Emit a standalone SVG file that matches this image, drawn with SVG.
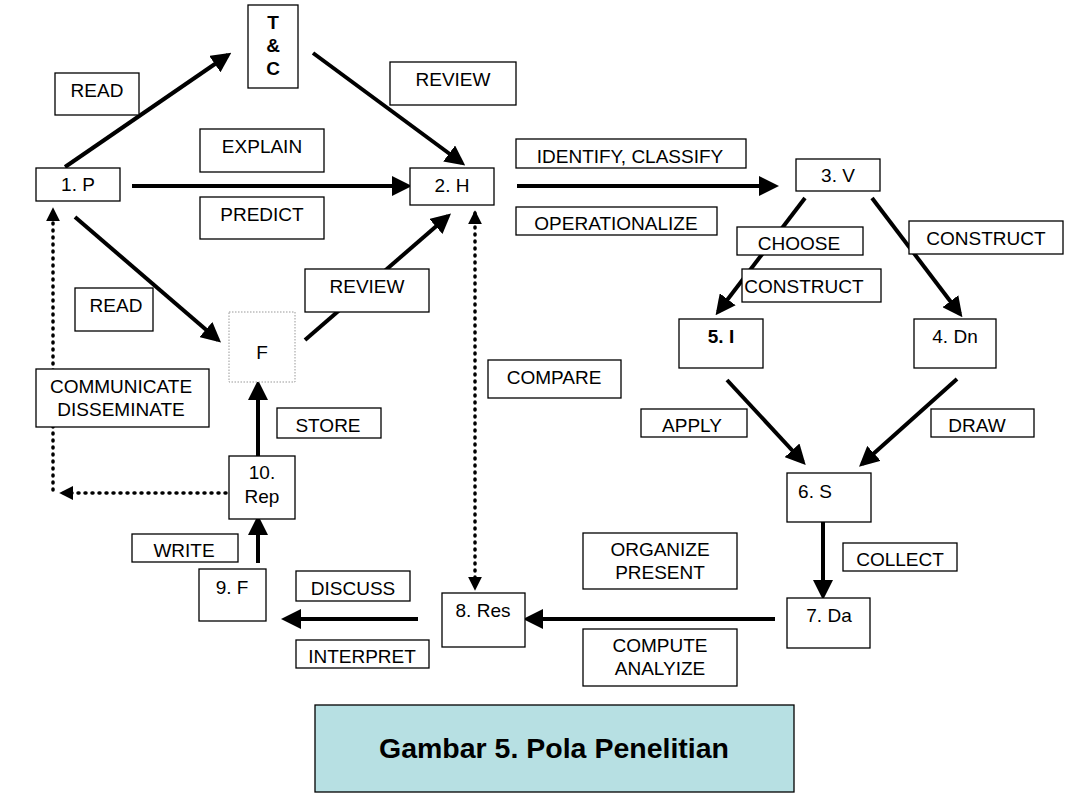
<svg xmlns="http://www.w3.org/2000/svg" width="1079" height="811" viewBox="0 0 1079 811">
<style>
rect{fill:#fff;stroke:#000;stroke-width:1.3}
text{font-family:"Liberation Sans",Arial,sans-serif;font-size:19px;fill:#000;text-anchor:middle}
.a{stroke:#000;stroke-width:4;fill:none;marker-end:url(#ah)}
.d{stroke:#000;stroke-width:3.5;fill:none;stroke-dasharray:1 6;stroke-linecap:round}
.b{font-weight:bold}
</style>
<defs>
<marker id="ah" viewBox="0 0 10 10" refX="8" refY="5" markerWidth="5" markerHeight="5" orient="auto" markerUnits="strokeWidth"><path d="M0,0L10,5L0,10z" fill="#000"/></marker>
<marker id="dh" viewBox="0 0 10 10" refX="8" refY="5" markerWidth="4" markerHeight="4" orient="auto-start-reverse" markerUnits="strokeWidth"><path d="M0,0L10,5L0,10z" fill="#000"/></marker>
</defs>
<rect x="0" y="0" width="1079" height="811" style="stroke:none"/>
<g id="connectors">
<line class="a" x1="65" y1="167" x2="228" y2="55"/>
<line class="a" x1="313" y1="53" x2="462" y2="163"/>
<line class="a" x1="132" y1="186" x2="408" y2="186"/>
<line class="a" x1="75" y1="217" x2="218" y2="340"/>
<line class="a" x1="305" y1="340" x2="448" y2="216"/>
<line class="a" x1="517" y1="186" x2="775" y2="186"/>
<line class="a" x1="805" y1="198" x2="718" y2="312"/>
<line class="a" x1="872" y1="198" x2="960" y2="314"/>
<line class="a" x1="727" y1="380" x2="803" y2="462"/>
<line class="a" x1="957" y1="379" x2="862" y2="464"/>
<line class="a" x1="823" y1="522" x2="823" y2="596"/>
<line class="a" x1="775" y1="619" x2="527" y2="619"/>
<line class="a" x1="418" y1="619" x2="285" y2="619"/>
<line class="a" x1="258" y1="563" x2="258" y2="519"/>
<line class="a" x1="258" y1="456" x2="258" y2="384"/>
<path class="d" d="M226,493H62" marker-end="url(#dh)"/>
<path class="d" d="M53,490V210" marker-end="url(#dh)"/>
<path class="d" d="M475,213V588" marker-start="url(#dh)" marker-end="url(#dh)"/>
</g>
<g id="tc"><rect x="248" y="5" width="50" height="83"/><text class="b" x="273" y="29">T</text><text class="b" x="273" y="52">&amp;</text><text class="b" x="273" y="75">C</text></g>
<g id="p1"><rect x="36" y="168" width="84" height="33"/><text x="78" y="191">1. P</text></g>
<g id="h2"><rect x="410" y="168" width="84" height="37"/><text x="452" y="192">2. H</text></g>
<g id="v3"><rect x="796" y="159" width="84" height="32"/><text x="838" y="182">3. V</text></g>
<g id="f"><rect x="229" y="312" width="66" height="70" style="stroke:#999;stroke-dasharray:1.5 1.5;stroke-width:1"/><text x="262" y="359">F</text></g>
<g id="i5"><rect x="679" y="319" width="84" height="49"/><text class="b" x="721" y="343">5. I</text></g>
<g id="dn4"><rect x="914" y="319" width="82" height="49"/><text x="955" y="343">4. Dn</text></g>
<g id="s6"><rect x="787" y="473" width="84" height="49"/><text x="815" y="498">6. S</text></g>
<g id="da7"><rect x="787" y="598" width="83" height="50"/><text x="829" y="622">7. Da</text></g>
<g id="res8"><rect x="442" y="593" width="83" height="54"/><text x="483" y="617">8. Res</text></g>
<g id="f9"><rect x="199" y="569" width="67" height="52"/><text x="232" y="594">9. F</text></g>
<g id="rep10"><rect x="229" y="456" width="66" height="63"/><text x="262" y="479">10.</text><text x="262" y="503">Rep</text></g>
<g id="labels">
<rect x="55" y="73" width="84" height="42"/><text x="97" y="97">READ</text>
<rect x="390" y="62" width="126" height="43"/><text x="453" y="86">REVIEW</text>
<rect x="200" y="129" width="124" height="43"/><text x="262" y="153">EXPLAIN</text>
<rect x="200" y="197" width="124" height="42"/><text x="262" y="221">PREDICT</text>
<rect x="75" y="288" width="78" height="43"/><text x="116" y="312">READ</text>
<rect x="305" y="269" width="124" height="43"/><text x="367" y="293">REVIEW</text>
<rect x="36" y="369" width="173" height="58"/><text x="121" y="393">COMMUNICATE</text><text x="121" y="416">DISSEMINATE</text>
<rect x="277" y="408" width="104" height="30"/><text x="328" y="432">STORE</text>
<rect x="132" y="534" width="106" height="28"/><text x="184" y="557">WRITE</text>
<rect x="296" y="571" width="114" height="30"/><text x="353" y="595">DISCUSS</text>
<rect x="296" y="640" width="133" height="28"/><text x="362" y="663">INTERPRET</text>
<rect x="488" y="360" width="133" height="38"/><text x="554" y="384">COMPARE</text>
<rect x="516" y="139" width="230" height="29"/><text x="630" y="163">IDENTIFY, CLASSIFY</text>
<rect x="516" y="207" width="201" height="28"/><text x="616" y="230">OPERATIONALIZE</text>
<rect x="737" y="227" width="126" height="28"/><text x="799" y="250">CHOOSE</text>
<rect x="742" y="269" width="139" height="33"/><text x="804" y="293">CONSTRUCT</text>
<rect x="909" y="221" width="154" height="33"/><text x="986" y="245">CONSTRUCT</text>
<rect x="641" y="409" width="106" height="28"/><text x="692" y="432">APPLY</text>
<rect x="931" y="409" width="103" height="28"/><text x="977" y="432">DRAW</text>
<rect x="843" y="543" width="114" height="28"/><text x="900" y="566">COLLECT</text>
<rect x="583" y="533" width="154" height="56"/><text x="660" y="556">ORGANIZE</text><text x="660" y="579">PRESENT</text>
<rect x="583" y="629" width="154" height="57"/><text x="660" y="652">COMPUTE</text><text x="660" y="675">ANALYIZE</text>
</g>
<g id="caption"><rect x="315" y="705" width="479" height="87" style="fill:#b7e0e3"/><text class="b" x="554" y="758" style="font-size:28.5px">Gambar 5. Pola Penelitian</text></g>
</svg>
